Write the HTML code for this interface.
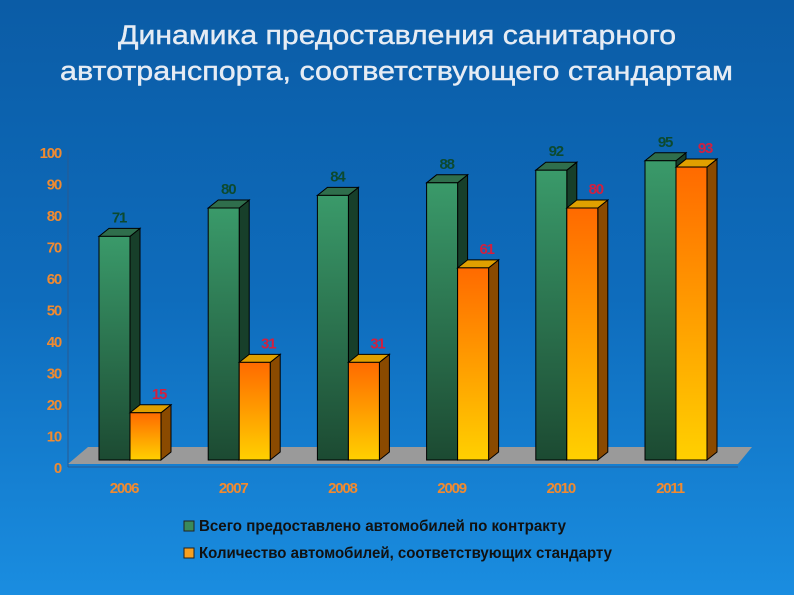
<!DOCTYPE html>
<html><head><meta charset="utf-8"><style>
body{margin:0;width:794px;height:595px;overflow:hidden;background:linear-gradient(180deg,#0b5ca6 0%,#0e6cbc 50%,#1a8de0 100%);font-family:"Liberation Sans","Noto Sans CJK SC",sans-serif}
</style></head><body>
<svg id="c" width="794" height="595" style="position:absolute;left:0;top:0">
<defs>
<linearGradient id="gf" x1="0" y1="0" x2="0" y2="1"><stop offset="0" stop-color="#3a9a6a"/><stop offset="1" stop-color="#1c4a32"/></linearGradient>
<linearGradient id="of" x1="0" y1="0" x2="0" y2="1"><stop offset="0" stop-color="#ff6a00"/><stop offset="1" stop-color="#ffd000"/></linearGradient>
</defs>
<text x="118" y="44" textLength="558" lengthAdjust="spacingAndGlyphs" fill="#e6ecf4" font-size="27" stroke="#e6ecf4" stroke-width="0.4">Динамика предоставления санитарного</text>
<text x="60" y="80" textLength="673" lengthAdjust="spacingAndGlyphs" fill="#e6ecf4" font-size="27" stroke="#e6ecf4" stroke-width="0.4">автотранспорта, соответствующего стандартам</text>
</svg>
<script>
const categories=["2006","2007","2008","2009","2010","2011"];
const totalVals=[71,80,84,88,92,95];
const stdVals=[15,31,31,61,80,93];
const yTicks=[0,10,20,30,40,50,60,70,80,90,100];
const svg=document.getElementById('c');
const NS='http://www.w3.org/2000/svg';
function mk(t,a,p){const e=document.createElementNS(NS,t);for(const k in a)e.setAttribute(k,a[k]);(p||svg).appendChild(e);return e;}
const base=460, sc=3.15, dx=10, dy=8;
function y(v){return base-v*sc;}
function axisY(v){return 467-v*3.15;}
function cx(i){return 124+i*109.2;}
const fl=mk('polygon',{points:`68,464 738,464 752,447 88,447`,fill:'#9a9a9a'});

mk('line',{x1:68,y1:150,x2:68,y2:467,stroke:'#2a5a90','stroke-width':1});
mk('line',{x1:68,y1:467,x2:738,y2:467,stroke:'#2a5a90','stroke-width':1});
yTicks.forEach(v=>{const t=mk('text',{x:61,y:axisY(v)+6,'text-anchor':'end',fill:'#f08a30','font-size':15,'font-weight':'bold','letter-spacing':'-1.2'});t.textContent=v;
});
function bar(x,v,face,side,top,name){
 const g=mk('g',{});
 const w=31,yt=y(v);
 mk('polygon',{points:`${x+w},${yt} ${x+w+dx},${yt-dy} ${x+w+dx},${base-dy} ${x+w},${base}`,fill:side,stroke:'#000','stroke-width':1},g);
 mk('polygon',{points:`${x},${yt} ${x+dx},${yt-dy} ${x+w+dx},${yt-dy} ${x+w},${yt}`,fill:top,stroke:'#000','stroke-width':1},g);
 mk('rect',{x:x,y:yt,width:w,height:base-yt,fill:face,stroke:'#000','stroke-width':1},g);
}
categories.forEach((c,i)=>{
 const x=cx(i)-25;
 bar(x,totalVals[i],'url(#gf)','#173f2a','#2f6e4c','bar-total-'+c);
 bar(x+31,stdVals[i],'url(#of)','#8a4a00','#e0a000','bar-standard-'+c);
 let t=mk('text',{x:x+20,y:y(totalVals[i])-14,'text-anchor':'middle',fill:'#0c4a30','font-size':15,'font-weight':'bold','letter-spacing':'-1.2'});t.textContent=totalVals[i];
 
 t=mk('text',{x:x+60,y:y(stdVals[i])-14,'text-anchor':'middle',fill:'#d02040','font-size':15,'font-weight':'bold','letter-spacing':'-1.2'});t.textContent=stdVals[i];
 
 t=mk('text',{x:cx(i),y:493,'text-anchor':'middle',fill:'#f08a30','font-size':15,'font-weight':'bold','letter-spacing':'-1.2'});t.textContent=c;
 
});
const legend=[['Всего предоставлено автомобилей по контракту','#3a8a5a',531,367],['Количество автомобилей, соответствующих стандарту','#f8a020',558,413]];
legend.forEach(l=>{const g=mk('g',{});
 mk('rect',{x:184,y:l[2]-10,width:10,height:10,fill:l[1],stroke:'#222','stroke-width':1},g);
 const t=mk('text',{x:199,y:l[2],fill:'#111','font-size':16,'font-weight':'bold',textLength:l[3],lengthAdjust:'spacingAndGlyphs'},g);t.textContent=l[0];});
</script>
</body></html>
